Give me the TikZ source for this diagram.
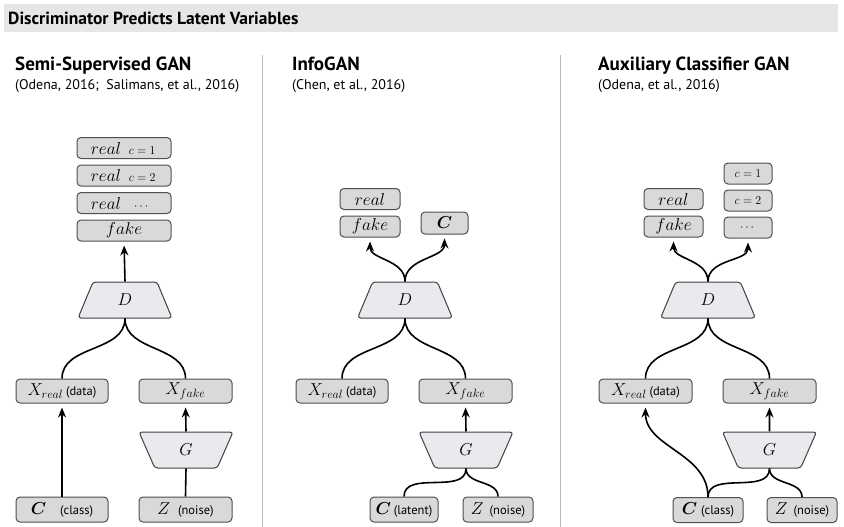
\documentclass[tikz,border=0pt]{standalone}
\usepackage{amsmath,amssymb}
\usepackage[no-math]{fontspec}
\setsansfont{PT Sans}
\usepackage{tikz}
\usetikzlibrary{arrows.meta, positioning, shapes.geometric}
\definecolor{boxfill}{HTML}{D9D9D9}
\definecolor{boxline}{HTML}{505050}
\definecolor{netfill}{HTML}{E9E9EE}
\definecolor{barfill}{HTML}{E6E6E6}
\definecolor{rulegray}{HTML}{BBBBBB}
\newcommand{\sm}[1]{{\fontsize{13}{13}\selectfont#1}}
\newcommand{\kind}[1]{{\sffamily\fontsize{12.5}{13}\selectfont#1}}

\begin{document}
\begin{tikzpicture}[x=1pt, y=1pt,
  lbl/.style={draw=boxline, fill=boxfill, rounded corners=4pt, line width=1pt,
    minimum height=21pt, inner sep=0pt, font=\fontsize{17}{17}\selectfont},
  net/.style={trapezium, draw=black!75, fill=netfill, line width=1pt, rounded corners=3pt,
    trapezium stretches=true, trapezium angle=74, minimum width=94pt, minimum height=36pt,
    inner sep=0pt, font=\fontsize{19}{19}\selectfont},
  link/.style={line width=1.6pt},
  arr/.style={link, -{Stealth[length=10pt, width=8pt]}, shorten >=4pt},
  head/.style={anchor=base west, inner sep=0pt, font=\sffamily\bfseries\fontsize{19}{19}\selectfont},
  cite/.style={anchor=base west, inner sep=0pt, font=\sffamily\fontsize{14}{14}\selectfont},
]
  \useasboundingbox (0,0) rectangle (844,-527);

  % title bar and panel rules
  \fill[barfill] (4,-4) rectangle (838,-32);
  \node[head, font=\sffamily\bfseries\fontsize{17.5}{17.5}\selectfont] (title) at (8,-25) {Discriminator Predicts Latent Variables};
  \draw[rulegray, line width=0.8pt] (262,-55) -- (262,-527);
  \draw[rulegray, line width=0.8pt] (560,-55) -- (560,-527);

  \node[head] (sgan) at (15,-71) {Semi-Supervised GAN};
  \node[cite] (sganref) at (15,-89) {(Odena, 2016;\ \ Salimans, et al., 2016)};
  \node[head] (igan) at (292,-71) {InfoGAN};
  \node[cite] (iganref) at (292,-89) {(Chen, et al., 2016)};
  \node[head] (acgan) at (598,-71) {Auxiliary Classifier GAN};
  \node[cite] (acganref) at (598,-89) {(Odena, et al., 2016)};

  % Semi-Supervised GAN
  \node[lbl, minimum width=94pt] (fake1) at (124,-230.5) {$fake$};
  \node[lbl, minimum width=94pt, above=5.5pt of fake1] (realc1) {$real$\hspace{6pt}\makebox[30pt]{\sm{$\cdots$}}};
  \node[lbl, minimum width=94pt, above=5.5pt of realc1] (realb1) {$real$\hspace{6pt}\makebox[30pt]{\sm{$c=2$}}};
  \node[lbl, minimum width=94pt, above=5.5pt of realb1] (reala1) {$real$\hspace{6pt}\makebox[30pt]{\sm{$c=1$}}};
  \node[net] (D1) at (125,-300) {$D$};
  \node[lbl, minimum width=92pt, minimum height=24pt] (xr1) at (62,-391) {$X_{real}$\,\kind{(data)}};
  \node[lbl, minimum width=93pt, minimum height=24pt] (xf1) at (185.5,-391) {$X_{fake}$};
  \node[net, shape border rotate=180] (G1) at (186,-450) {$G$};
  \node[lbl, minimum width=92pt, minimum height=25pt] (c1) at (62,-509.5) {$\boldsymbol{C}$\hspace{14pt}\kind{(class)}};
  \node[lbl, minimum width=93pt, minimum height=25pt] (z1) at (185.5,-509.5) {$Z$\hspace{8pt}\kind{(noise)}};

  \draw[arr] (D1.north) -- (fake1.south);
  \draw[link] (D1.south) to[out=-90, in=90] (xr1.north);
  \draw[link] (D1.south) to[out=-90, in=90] (xf1.north);
  \draw[arr] (c1.north) -- (xr1.south);
  \draw[arr] (G1.north) -- (xf1.south);
  \draw[link] (z1.north) -- (G1.south);

  % InfoGAN
  \node[lbl, minimum width=60pt] (fake2) at (370,-226.5) {$fake$};
  \node[lbl, minimum width=60pt, above=5.5pt of fake2] (real2) {$real$};
  \node[lbl, minimum width=47pt, minimum height=22pt] (code2) at (444.5,-223) {$\boldsymbol{C}$};
  \node[net, minimum width=95pt] (D2) at (405,-300) {$D$};
  \node[lbl, minimum width=92pt, minimum height=24pt] (xr2) at (342,-391) {$X_{real}$\,\kind{(data)}};
  \node[lbl, minimum width=93pt, minimum height=24pt] (xf2) at (465.5,-391) {$X_{fake}$};
  \node[net, shape border rotate=180] (G2) at (466,-450) {$G$};
  \node[lbl, minimum width=68pt, minimum height=25pt] (c2) at (404,-509.5) {$\boldsymbol{C}$\,\kind{(latent)}};
  \node[lbl, minimum width=70pt, minimum height=25pt] (z2) at (498,-509.5) {$Z$\hspace{6pt}\kind{(noise)}};

  \draw[arr] (D2.north) to[out=90, in=-90] (fake2.south);
  \draw[arr] (D2.north) to[out=90, in=-90] (code2.south);
  \draw[link] (D2.south) to[out=-90, in=90] (xr2.north);
  \draw[link] (D2.south) to[out=-90, in=90] (xf2.north);
  \draw[arr] (G2.north) -- (xf2.south);
  \draw[link] (c2.north) to[out=90, in=-90] (G2.south);
  \draw[link] (z2.north) to[out=90, in=-90] (G2.south);

  % Auxiliary Classifier GAN
  \node[lbl, minimum width=59pt] (fake3) at (673.5,-226.5) {$fake$};
  \node[lbl, minimum width=59pt, above=5.5pt of fake3] (real3) {$real$};
  \node[lbl, minimum width=48pt] (cc3) at (748,-227.5) {\sm{$\cdots$}};
  \node[lbl, minimum width=48pt, above=5pt of cc3] (cb3) {\sm{$c=2$}};
  \node[lbl, minimum width=48pt, above=5pt of cb3] (ca3) {\sm{$c=1$}};
  \node[net, minimum width=95pt] (D3) at (708,-300) {$D$};
  \node[lbl, minimum width=93pt, minimum height=24pt] (xr3) at (645.5,-391) {$X_{real}$\,\kind{(data)}};
  \node[lbl, minimum width=93pt, minimum height=24pt] (xf3) at (769.5,-391) {$X_{fake}$};
  \node[net, shape border rotate=180] (G3) at (769.5,-450) {$G$};
  \node[lbl, minimum width=70pt, minimum height=25pt] (c3) at (708,-510) {$\boldsymbol{C}$\hspace{4pt}\kind{(class)}};
  \node[lbl, minimum width=70pt, minimum height=25pt] (z3) at (802,-510) {$Z$\hspace{6pt}\kind{(noise)}};

  \draw[arr] (D3.north) to[out=90, in=-90] (fake3.south);
  \draw[arr] (D3.north) to[out=90, in=-90] (cc3.south);
  \draw[link] (D3.south) to[out=-90, in=90] (xr3.north);
  \draw[link] (D3.south) to[out=-90, in=90] (xf3.north);
  \draw[arr] (c3.north) to[out=90, in=-90] (xr3.south);
  \draw[arr] (G3.north) -- (xf3.south);
  \draw[link] (c3.north) to[out=90, in=-90] (G3.south);
  \draw[link] (z3.north) to[out=90, in=-90] (G3.south);
\end{tikzpicture}
\end{document}
